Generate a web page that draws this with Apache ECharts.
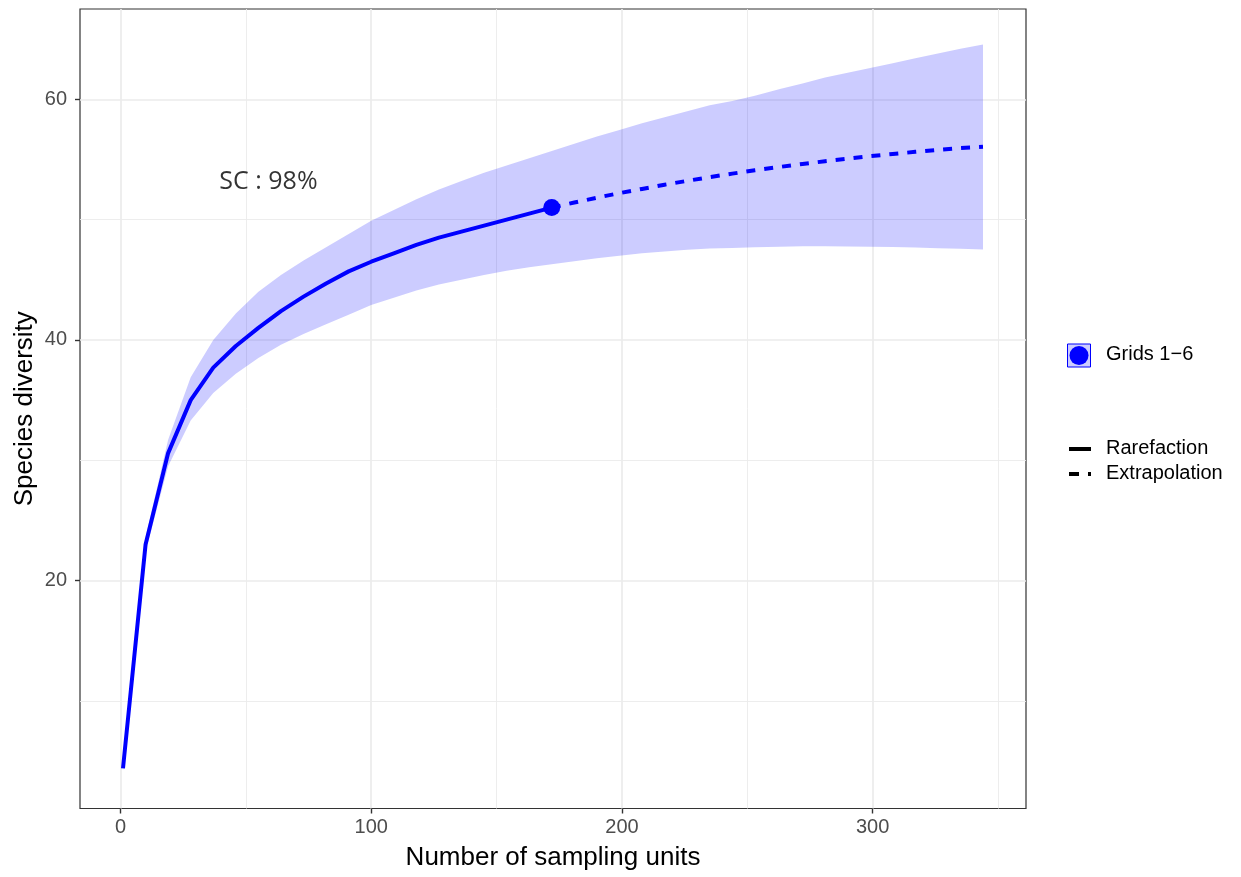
<!DOCTYPE html>
<html>
<head>
<meta charset="utf-8">
<script src="https://cdn.jsdelivr.net/npm/echarts/dist/echarts.min.js"></script>
<style>
html,body{margin:0;padding:0;background:#fff;}
#chart{width:1241px;height:877px;}
</style>
</head>
<body>
<div id="chart"></div>
<script>
// ---- data ----
const rareX = [1,10,19,28,37,46,55,64,73,82,91,100,109,118,127,136,145,154,163,172];
const rareY = [4.4,23.0,30.6,35.0,37.7,39.5,41.0,42.4,43.6,44.7,45.7,46.5,47.2,47.9,48.5,49.0,49.5,50.0,50.5,51.0];
const rareLo = [4.2,22.4,29.5,33.3,35.6,37.2,38.5,39.6,40.5,41.3,42.1,42.9,43.5,44.1,44.6,45.0,45.4,45.75,46.05,46.3];
const rareHi = [4.6,23.6,31.7,36.9,40.0,42.2,44.0,45.4,46.6,47.7,48.8,49.9,50.8,51.7,52.5,53.2,53.9,54.5,55.1,55.7];

const extX = [172,181,190,199,208,217,226,235,244,253,263,272,281,290,299,308,317,326,335,344];
const extY = [51.0,51.42,51.82,52.2,52.55,52.9,53.22,53.53,53.82,54.1,54.38,54.62,54.85,55.06,55.27,55.45,55.63,55.8,55.95,56.05];
const extLo = [46.3,46.55,46.8,47.0,47.2,47.35,47.5,47.6,47.65,47.7,47.75,47.78,47.78,47.77,47.75,47.72,47.68,47.63,47.58,47.52];
const extHi = [55.7,56.3,56.9,57.45,58.0,58.5,59.0,59.5,59.85,60.3,60.85,61.3,61.8,62.2,62.6,63.0,63.4,63.8,64.2,64.55];

const observed = [172, 51.0];
const annotation = {x: 59, y: 53.1, text: 'SC : 98%'};

const xTicks = [0, 100, 200, 300];
const xMinor = [50, 150, 250, 350];
const yTicks = [20, 40, 60];
const yMinor = [10, 30, 50];

const seriesName = 'Grids 1\u22126';
const legendTypes = ['Rarefaction', 'Extrapolation'];
const xTitle = 'Number of sampling units';
const yTitle = 'Species diversity';

// ---- build ----
const bandX = rareX.concat(extX.slice(1));
const bandLo = rareLo.concat(extLo.slice(1));
const bandHi = rareHi.concat(extHi.slice(1));
const bandData = bandX.map((x, i) => [x, bandLo[i], bandHi[i]]);

const rareData = rareX.map((x, i) => [x, rareY[i]]);
const extData = extX.map((x, i) => [x, extY[i]]);

const gridCol = '#EBEBEB';
const gridLines = []
  .concat(xTicks.map(v => ({xAxis: v, lineStyle: {color: gridCol, width: 1.7, type: 'solid'}})))
  .concat(xMinor.map(v => ({xAxis: v, lineStyle: {color: gridCol, width: 0.9, type: 'solid'}})))
  .concat(yTicks.map(v => ({yAxis: v, lineStyle: {color: gridCol, width: 1.7, type: 'solid'}})))
  .concat(yMinor.map(v => ({yAxis: v, lineStyle: {color: gridCol, width: 0.9, type: 'solid'}})));

const FONT = '"Liberation Sans", Arial, sans-serif';

const chart = echarts.init(document.getElementById('chart'), null, {renderer: 'canvas'});

const option = {
  animation: false,
  backgroundColor: '#ffffff',
  grid: {
    left: 80, right: 215, top: 9, bottom: 68.5,
    show: true, borderColor: '#333333', borderWidth: 1.2, backgroundColor: 'transparent'
  },
  xAxis: {
    type: 'value', min: -16.15, max: 361.15,
    axisLine: {show: false, onZero: false},
    splitLine: {show: false},
    axisTick: {show: true, customValues: xTicks, length: 5, lineStyle: {color: '#333333', width: 1.4}},
    axisLabel: {customValues: xTicks, color: '#4D4D4D', fontSize: 20, fontFamily: FONT, margin: 9},
    name: xTitle, nameLocation: 'middle', nameGap: 36, nameMoveOverlap: false,
    nameTextStyle: {color: '#000', fontSize: 26, fontFamily: FONT}
  },
  yAxis: {
    type: 'value', min: 1.07, max: 67.5,
    axisLine: {show: false, onZero: false},
    splitLine: {show: false},
    axisTick: {show: true, customValues: yTicks, length: 5, lineStyle: {color: '#333333', width: 1.4}},
    axisLabel: {customValues: yTicks, color: '#4D4D4D', fontSize: 20, fontFamily: FONT, margin: 13},
    name: yTitle, nameLocation: 'middle', nameGap: 42, nameMoveOverlap: false,
    nameTextStyle: {color: '#000', fontSize: 26, fontFamily: FONT}
  },
  series: [
    {
      type: 'line', name: 'gridlines', data: rareData,
      symbol: 'none', lineStyle: {opacity: 0}, z: 0, silent: true,
      markLine: {silent: true, symbol: 'none', z: 0, label: {show: false}, animation: false, data: gridLines}
    },
    {
      type: 'custom', name: 'band', data: bandData, z: 2, silent: true, clip: true,
      encode: {x: 0, y: [1, 2]},
      renderItem: function (params, api) {
        if (params.dataIndex !== 0) return null;
        const pts = [];
        for (let i = 0; i < bandData.length; i++) pts.push(api.coord([bandData[i][0], bandData[i][2]]));
        for (let i = bandData.length - 1; i >= 0; i--) pts.push(api.coord([bandData[i][0], bandData[i][1]]));
        return {type: 'polygon', shape: {points: pts}, style: {fill: 'rgba(0,0,255,0.2)'}};
      }
    },
    {
      type: 'line', name: 'Rarefaction', data: rareData, symbol: 'none', z: 3,
      lineStyle: {color: '#0000FF', width: 4, cap: 'butt', join: 'round'}
    },
    {
      type: 'line', name: 'Extrapolation', data: extData, symbol: 'none', z: 3,
      lineStyle: {color: '#0000FF', width: 4, type: [9, 9], cap: 'butt'}
    },
    {
      type: 'scatter', name: seriesName, data: [observed], symbol: 'circle', symbolSize: 17, z: 4,
      itemStyle: {color: '#0000FF', opacity: 1}
    },
    {
      type: 'scatter', name: 'annotation', data: [[annotation.x, annotation.y]], symbolSize: 0, z: 5,
      label: {show: true, position: 'inside', formatter: annotation.text, color: '#000',
              fontSize: 25, fontFamily: '"Open Sans", Lato, sans-serif'}
    }
  ],
  graphic: [
    {type: 'rect', shape: {x: 1067.5, y: 344, width: 23, height: 23},
     style: {fill: 'rgba(0,0,255,0.2)', stroke: '#0000FF', lineWidth: 1}},
    {type: 'circle', shape: {cx: 1079, cy: 355.5, r: 9.5}, style: {fill: '#0000FF'}},
    {type: 'text', left: 1106, top: 344, style: {text: seriesName, fontSize: 20, fontFamily: FONT, fill: '#000'}},
    {type: 'line', shape: {x1: 1069, y1: 449, x2: 1091, y2: 449}, style: {stroke: '#000', lineWidth: 4}},
    {type: 'text', left: 1106, top: 438, style: {text: legendTypes[0], fontSize: 20, fontFamily: FONT, fill: '#000'}},
    {type: 'line', shape: {x1: 1069, y1: 474, x2: 1091, y2: 474}, style: {stroke: '#000', lineWidth: 4, lineDash: [10, 9]}},
    {type: 'text', left: 1106, top: 463, style: {text: legendTypes[1], fontSize: 20, fontFamily: FONT, fill: '#000'}}
  ]
};
chart.setOption(option);
</script>
</body>
</html>
